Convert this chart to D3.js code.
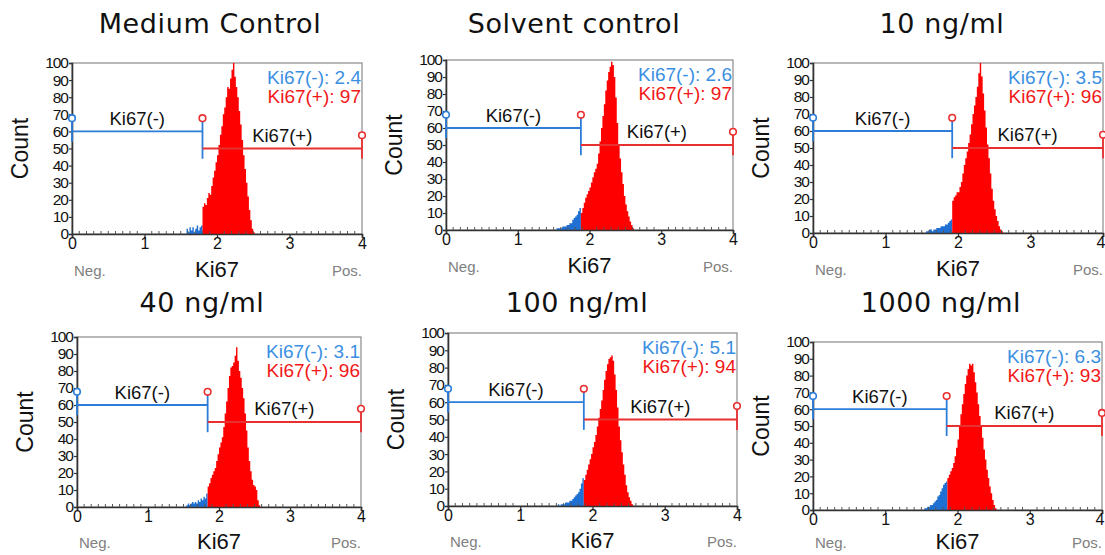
<!DOCTYPE html>
<html><head><meta charset="utf-8">
<script src="https://cdn.jsdelivr.net/npm/d3@7"></script>
<style>
html,body{margin:0;padding:0;background:#fff;}
svg{display:block;}
</style></head>
<body>
<svg id="chart" width="1105" height="555"></svg>
<script>
// ---------- data ----------
const titles = ["Medium Control", "Solvent control", "10 ng/ml", "40 ng/ml", "100 ng/ml", "1000 ng/ml"];
const gates = [1.80, 1.88, 1.92, 1.84, 1.88, 1.85];
const negPct = ["2.4", "2.6", "3.5", "3.1", "5.1", "6.3"];
const posPct = ["97", "97", "96", "96", "94", "93"];
const xTicks = [0, 1, 2, 3, 4];
const yTicks = [0, 10, 20, 30, 40, 50, 60, 70, 80, 90, 100];
const binStart = 1.50;
const binWidth = 0.02;
const countsMedium = [0,0,0,0,3,1,4,2,4,1,3,5,2,4,5,16,18,17,21,24,23,28,33,37,42,46,52,58,63,70,74,80,86,85,91,96,100,92,86,80,72,64,55,46,38,30,22,14,8,3,1,0,0,0,0,0,0,0,0,0];
const countsSolvent = [0,0,1,1,1,1,2,2,2,3,3,4,4,6,7,8,9,11,13,10,13,16,19,21,23,25,28,31,34,36,39,45,52,60,67,74,82,88,93,96,99,97,90,78,63,50,42,34,27,20,15,11,8,5,3,1,0,0,0,0];
const counts10 = [0,0,0,1,1,2,2,1,2,2,3,3,3,4,4,4,5,5,6,7,8,19,21,22,24,24,27,30,35,40,44,48,53,58,64,70,75,80,86,94,100,92,82,72,62,52,44,35,26,19,14,10,7,4,2,1,0,0,0,0];
const counts40 = [0,0,1,2,1,2,3,2,3,2,4,3,5,4,6,5,8,12,14,17,19,21,23,27,31,35,38,41,47,55,62,70,77,82,83,85,89,94,86,80,76,70,64,55,45,35,27,21,16,13,12,10,4,1,0,0,0,0,0,0];
const counts100 = [0,1,0,1,1,1,2,2,2,3,3,4,5,6,7,8,10,13,16,15,18,21,24,27,30,34,37,41,46,51,56,61,67,73,78,82,85,86,87,84,76,67,57,46,38,31,24,18,12,8,5,3,1,0,0,0,0,0,0,0];
const counts1000 = [0,0,1,1,2,2,3,3,4,5,6,8,9,11,13,15,16,17,19,21,23,25,28,32,37,42,50,57,63,69,75,80,84,87,86,87,82,76,70,63,56,50,43,36,30,24,19,14,10,6,3,1,0,0,0,0,0,0,0,0];
const allCounts = [countsMedium, countsSolvent, counts10, counts40, counts100, counts1000];

// ---------- layout ----------
const layout = [
  {l:72,  r:362,  t:63,  b:234, tx:210, ty:33, lab:43},
  {l:446, r:733,  t:60,  b:230, tx:574, ty:33, lab:43},
  {l:813, r:1103, t:63,  b:233, tx:942, ty:33, lab:43},
  {l:77,  r:361,  t:337, b:507, tx:202, ty:312, lab:42},
  {l:448, r:737,  t:333, b:506, tx:577, ty:312, lab:42},
  {l:813, r:1102, t:342, b:510, tx:941, ty:312, lab:39}
];
const C = {
  histRed:"#ff0000", histBlue:"#1f70d2",
  gateBlue:"#2c7dd8", gateRed:"#e83030",
  txtBlue:"#3a8fe2", txtRed:"#f21818"
};
const SANS = "Liberation Sans, Arial, sans-serif";

const svg = d3.select("#chart");

layout.forEach((L, p) => {
  const g = svg.append("g");
  const x = d3.scaleLinear().domain([0,4]).range([L.l, L.r]);
  const y = d3.scaleLinear().domain([0,100]).range([L.b, L.t]);
  const gate = gates[p];

  // title
  g.append("text").attr("x", L.tx).attr("y", L.ty).attr("text-anchor","middle")
    .attr("font-family","DejaVu Sans, Verdana, sans-serif").attr("font-size",27)
    .attr("letter-spacing","0.6").attr("fill","#111").text(titles[p]);

  // frame
  g.append("rect").attr("x",L.l).attr("y",L.t).attr("width",L.r-L.l).attr("height",L.b-L.t)
    .attr("fill","#fff").attr("stroke","#8a8a8a").attr("stroke-width",1.2);

  // histogram as step areas (blue below gate, red above)
  const bins = allCounts[p].map((c,i) => ({x0: binStart + i*binWidth, c}));
  const negBins = bins.filter(d => d.x0 < gate - 1e-9);
  const posBins = bins.filter(d => d.x0 >= gate - 1e-9);
  const stepPts = arr => {
    const pts = [];
    arr.forEach(d => { pts.push([d.x0, d.c]); pts.push([d.x0 + binWidth, d.c]); });
    return pts;
  };
  const area = d3.area().x(d => x(d[0])).y0(y(0)).y1(d => y(d[1]));
  g.append("path").attr("d", area(stepPts(negBins))).attr("fill", C.histBlue);
  g.append("path").attr("d", area(stepPts(posBins))).attr("fill", C.histRed);

  // axes
  const xAxis = d3.axisBottom(x).tickValues(xTicks).tickSize(4).tickFormat(d3.format("d"));
  const gx = g.append("g").attr("transform",`translate(0,${L.b})`).call(xAxis);
  gx.select(".domain").attr("stroke","#333").attr("stroke-width",1.6);
  gx.selectAll(".tick line").attr("stroke","#333").attr("stroke-width",1.3);
  gx.selectAll(".tick text").attr("font-family",SANS)
    .attr("font-size",16).attr("fill","#111").attr("dy","0.5em");
  if (L.r > 1090) {
    gx.selectAll(".tick text").filter(d => d === 4).attr("text-anchor","end").attr("dx","2");
  }
  // minor x ticks
  const minor = d3.range(1,40).filter(i => i % 10 !== 0).map(i => i/10);
  g.append("g").selectAll("line").data(minor).join("line")
    .attr("x1", d => x(d)).attr("x2", d => x(d))
    .attr("y1", L.b).attr("y2", L.b - 3)
    .attr("stroke","#555").attr("stroke-width",1);

  const yAxis = d3.axisLeft(y).tickValues(yTicks).tickSize(3).tickPadding(1);
  const gy = g.append("g").attr("transform",`translate(${L.l},0)`).call(yAxis);
  gy.select(".domain").attr("stroke","#333").attr("stroke-width",1.6);
  gy.selectAll(".tick line").attr("stroke","#333").attr("stroke-width",1.2);
  gy.selectAll(".tick text").attr("font-family",SANS)
    .attr("font-size",15.5).attr("fill","#111").attr("letter-spacing","-1");

  // axis titles
  g.append("text").attr("x",(L.l+L.r)/2).attr("y",L.b+L.lab).attr("text-anchor","middle")
    .attr("font-family",SANS).attr("font-size",22)
    .attr("fill","#111").text("Ki67");
  g.append("text").attr("x",L.l+2).attr("y",L.b+L.lab-1)
    .attr("font-family",SANS).attr("font-size",15)
    .attr("fill","#808080").text("Neg.");
  g.append("text").attr("x",L.r).attr("y",L.b+L.lab-1).attr("text-anchor","end")
    .attr("font-family",SANS).attr("font-size",15)
    .attr("fill","#808080").text("Pos.");
  g.append("text")
    .attr("transform",`translate(${L.l-44},${(L.t+L.b)/2}) rotate(-90)`)
    .attr("text-anchor","middle")
    .attr("font-family",SANS).attr("font-size",23)
    .attr("fill","#111").text("Count");

  // gate markers
  const lineB = (x1,y1,x2,y2,col) => g.append("line")
    .attr("x1",x(x1)).attr("y1",y(y1)).attr("x2",x(x2)).attr("y2",y(y2))
    .attr("stroke",col).attr("stroke-width",1.8);
  lineB(0,60,gate,60,C.gateBlue);
  lineB(0,54,0,66,C.gateBlue);
  lineB(gate,44,gate,66,C.gateBlue);
  lineB(gate,50,4,50,C.gateRed);
  lineB(4,44,4,56,C.gateRed);
  const circ = (cx,cy,col) => g.append("circle").attr("cx",x(cx)).attr("cy",y(cy)-3)
    .attr("r",3.3).attr("fill","#fff").attr("stroke",col).attr("stroke-width",1.6);
  circ(0,66,C.gateBlue);
  circ(gate,66,C.gateRed);
  circ(4,56,C.gateRed);

  g.append("text").attr("x",x(gate/2)).attr("y",y(63.5)).attr("text-anchor","middle")
    .attr("font-family",SANS).attr("font-size",18.5)
    .attr("fill","#111").text("Ki67(-)");
  g.append("text").attr("x",x((gate+4)/2)).attr("y",y(54)).attr("text-anchor","middle")
    .attr("font-family",SANS).attr("font-size",18.5)
    .attr("fill","#111").text("Ki67(+)");

  // stats
  g.append("text").attr("x",L.r-1).attr("y",L.t+21).attr("text-anchor","end")
    .attr("font-family",SANS).attr("font-size",19)
    .attr("fill",C.txtBlue).text("Ki67(-): " + negPct[p]);
  g.append("text").attr("x",L.r-1).attr("y",L.t+40).attr("text-anchor","end")
    .attr("font-family",SANS).attr("font-size",19)
    .attr("fill",C.txtRed).text("Ki67(+): " + posPct[p]);
});
</script>
</body></html>
